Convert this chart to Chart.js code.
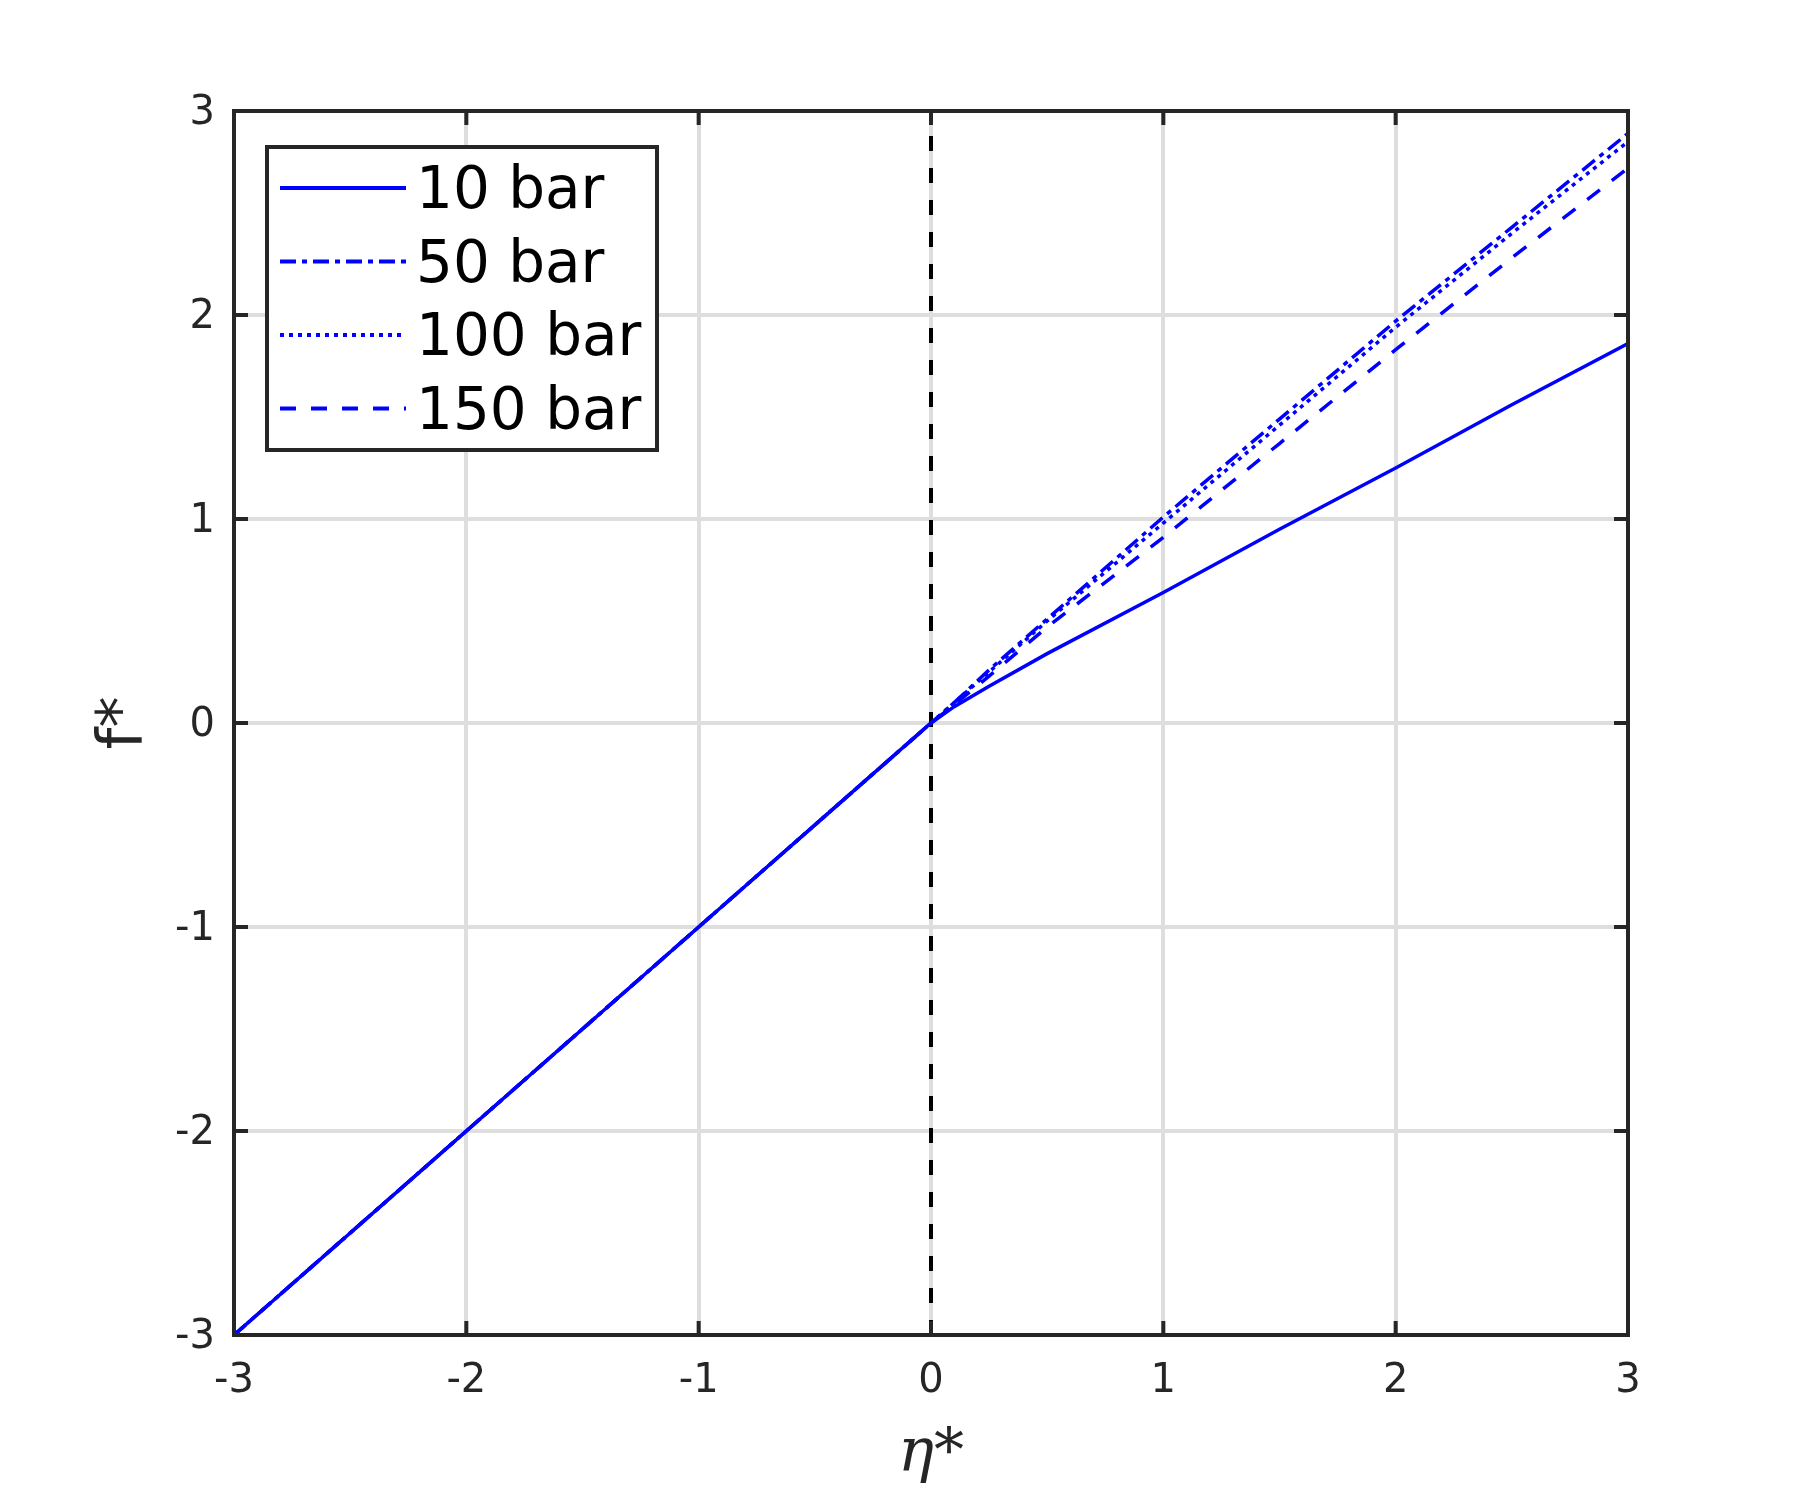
<!DOCTYPE html>
<html>
<head>
<meta charset="utf-8">
<script src="https://cdn.jsdelivr.net/npm/chart.js@4/dist/chart.umd.min.js"></script>
<style>
  html, body { margin: 0; padding: 0; background: #fff; }
  canvas { display: block; }
</style>
</head>
<body>
<canvas id="chart" width="1800" height="1500"></canvas>
<script>
// values
const eta  = [-3, -2, -1, 0, 0.1, 0.25, 0.5, 1, 1.5, 2, 2.5, 3];
const f10  = [-3, -2, -1, 0, 0.08, 0.18, 0.34, 0.64, 0.95, 1.25, 1.56, 1.86];
const f50  = [-3, -2, -1, 0, 0.10, 0.26, 0.51, 1.01, 1.49, 1.97, 2.43, 2.89];
const f100 = [-3, -2, -1, 0, 0.10, 0.25, 0.50, 0.98, 1.46, 1.94, 2.40, 2.85];
const f150 = [-3, -2, -1, 0, 0.09, 0.23, 0.47, 0.91, 1.37, 1.83, 2.28, 2.72];
const zeroX = [0, 0];
const zeroY = [-3, 3];
const seriesLabels = ['10 bar', '50 bar', '100 bar', '150 bar'];
const ticksX = [-3, -2, -1, 0, 1, 2, 3];
const ticksY = [-3, -2, -1, 0, 1, 2, 3];

const DARK = '#262626';
const BLUE = '#0000ff';

function pts(xs, ys){ return xs.map((x, i) => ({ x, y: ys[i] })); }

// later series sit on top, like matlab
function lineSet(label, ys, dash, order){
  return {
    label, data: pts(eta, ys), order,
    borderColor: BLUE, backgroundColor: BLUE,
    borderWidth: 3.5, borderDash: dash,
    pointRadius: 0, tension: 0, fill: false
  };
}

// box + inward tick marks, drawn from the scales
const boxPlugin = {
  id: 'box',
  afterDatasetsDraw(chart){
    const { ctx, chartArea: a, scales } = chart;
    ctx.save();
    ctx.strokeStyle = DARK;
    ctx.lineWidth = 4;
    ctx.setLineDash([]);
    const tl = 14;
    ctx.beginPath();
    ticksX.forEach(v => {
      const px = scales.x.getPixelForValue(v);
      ctx.moveTo(px, a.bottom); ctx.lineTo(px, a.bottom - tl);
      ctx.moveTo(px, a.top);    ctx.lineTo(px, a.top + tl);
    });
    ticksY.forEach(v => {
      const py = scales.y.getPixelForValue(v);
      ctx.moveTo(a.left, py);  ctx.lineTo(a.left + tl, py);
      ctx.moveTo(a.right, py); ctx.lineTo(a.right - tl, py);
    });
    ctx.stroke();
    ctx.strokeRect(a.left, a.top, a.right - a.left, a.bottom - a.top);
    ctx.restore();
  }
};

// legend box in the upper-left corner of the axes
const legendPlugin = {
  id: 'boxLegend',
  afterDraw(chart){
    const { ctx, chartArea: a } = chart;
    const items = chart.data.datasets.filter(d => seriesLabels.includes(d.label));
    const x0 = a.left + 33, y0 = a.top + 36, w = 390, h = 303;
    ctx.save();
    ctx.fillStyle = '#fff';
    ctx.fillRect(x0, y0, w, h);
    ctx.strokeStyle = DARK;
    ctx.lineWidth = 4;
    ctx.setLineDash([]);
    ctx.strokeRect(x0, y0, w, h);
    items.forEach((d, i) => {
      const yy = y0 + 41 + i * 73.5;
      ctx.strokeStyle = d.borderColor;
      ctx.lineWidth = 4;
      ctx.setLineDash(d.borderDash || []);
      ctx.beginPath();
      ctx.moveTo(x0 + 13, yy);
      ctx.lineTo(x0 + 139, yy);
      ctx.stroke();
      ctx.setLineDash([]);
      ctx.fillStyle = '#000';
      ctx.font = '58px "DejaVu Sans"';
      ctx.textBaseline = 'middle';
      ctx.textAlign = 'left';
      ctx.fillText(d.label, x0 + 149, yy + 5);
    });
    ctx.restore();
  }
};

new Chart(document.getElementById('chart').getContext('2d'), {
  type: 'line',
  data: {
    datasets: [
      lineSet(seriesLabels[0], f10, [], 4),
      lineSet(seriesLabels[1], f50, [16, 6, 5, 6], 3),
      lineSet(seriesLabels[2], f100, [4, 5], 2),
      lineSet(seriesLabels[3], f150, [16, 15], 1),
      {
        label: 'zero', data: pts(zeroX, zeroY),
        borderColor: '#000', borderWidth: 4, borderDash: [15, 17],
        pointRadius: 0, order: 10
      }
    ]
  },
  options: {
    responsive: false,
    animation: false,
    devicePixelRatio: 1,
    layout: { padding: { top: 111, right: 172, left: 0, bottom: 0 } },
    plugins: { legend: { display: false }, tooltip: { enabled: false } },
    scales: {
      x: {
        type: 'linear', min: -3, max: 3,
        afterBuildTicks: s => { s.ticks = ticksX.map(v => ({ value: v })); },
        afterFit: s => { s.height = 165; },
        grid: { color: '#dedede', lineWidth: 4, drawTicks: false },
        border: { display: false },
        ticks: {
          color: DARK, padding: 23,
          font: { family: 'DejaVu Sans', size: 40 },
          callback: v => String(v)
        },
        title: {
          display: true, text: 'η*', color: DARK,
          font: { family: 'DejaVu Serif', style: 'italic', size: 60 },
          padding: { top: 0, bottom: 9 }
        }
      },
      y: {
        type: 'linear', min: -3, max: 3,
        afterBuildTicks: s => { s.ticks = ticksY.map(v => ({ value: v })); },
        afterFit: s => { s.width = 234; },
        grid: { color: '#dedede', lineWidth: 4, drawTicks: false },
        border: { display: false },
        ticks: {
          color: DARK, padding: 19, labelOffset: 3,
          font: { family: 'DejaVu Sans', size: 40 },
          callback: v => String(v)
        },
        title: {
          display: true, text: 'f*', color: DARK,
          font: { family: 'DejaVu Sans', size: 62 },
          padding: { top: 88, bottom: 0 }
        }
      }
    }
  },
  plugins: [boxPlugin, legendPlugin]
});
</script>
</body>
</html>
